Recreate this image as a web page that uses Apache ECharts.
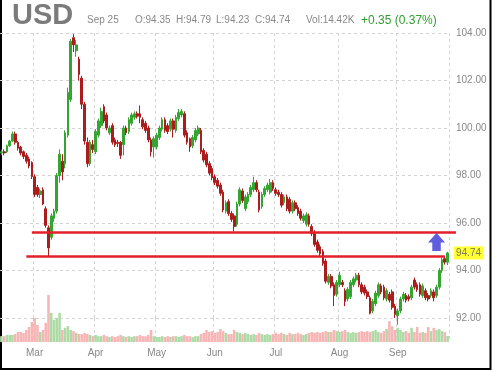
<!DOCTYPE html>
<html><head><meta charset="utf-8">
<script src="https://cdn.jsdelivr.net/npm/echarts@6/dist/echarts.min.js"></script>
<style>html,body{margin:0;padding:0;background:#fff}#c{width:492px;height:371px}</style>
</head><body><div id="c"></div>
<script>
// ---- data ----
const opens = [
98.95,99.0,99.0,99.25,99.45,99.75,99.4,99.2,99.0,98.85,
98.7,98.55,97.95,97.5,97.2,97.4,96.6,95.8,95.4,96.2,
96.5,98.0,98.6,98.5,99.7,101.2,103.8,103.25,102.9,102.1,
101.0,99.4,98.5,99.3,99.0,99.7,100.1,100.9,100.55,99.8,
100.1,99.5,99.4,99.4,99.3,100.0,99.85,100.2,100.45,100.6,
100.6,100.35,100.2,100.0,99.5,99.2,99.2,99.6,99.95,100.35,
100.1,99.95,100.3,99.9,100.4,100.55,100.6,99.8,99.55,99.25,
99.5,99.75,99.9,99.05,98.9,98.5,98.3,97.95,97.8,97.6,
97.3,96.5,96.9,96.4,96.3,95.95,96.8,97.35,96.6,96.9,
97.2,97.4,97.7,97.3,96.7,97.2,97.4,97.3,97.7,97.4,
97.3,97.2,96.85,97.1,97.0,96.5,96.85,96.65,96.5,96.1,
95.95,96.3,95.85,95.6,95.2,95.0,94.8,94.4,93.5,93.75,
93.4,93.0,93.4,93.5,93.15,92.8,92.9,93.4,93.6,93.8,
93.4,93.3,93.1,92.85,92.3,92.6,92.95,93.35,93.3,92.8,
93.0,93.1,92.5,92.1,92.3,92.8,92.95,92.9,92.85,93.6,
93.4,93.4,92.95,93.15,92.95,92.95,93.1,92.95,93.3,94.0,94.5,94.35];
const closes = [
99.0,98.95,99.25,99.45,99.75,99.4,99.15,98.95,98.8,98.6,
98.4,97.95,97.2,97.2,97.35,96.8,95.9,94.95,96.3,96.5,
98.0,98.9,98.15,99.8,101.5,103.65,103.5,103.5,102.25,101.0,
99.45,98.5,99.4,99.1,99.85,100.3,100.7,100.3,100.0,100.0,
99.4,99.3,99.35,98.85,100.0,99.8,100.35,100.55,100.6,100.5,
100.45,100.05,99.9,99.5,99.0,99.55,99.7,100.0,100.35,99.9,
99.85,100.3,99.95,100.45,100.65,100.7,99.7,99.4,99.2,99.6,
99.9,100.0,99.0,98.65,98.45,98.1,97.9,97.7,97.55,97.25,
96.55,96.85,96.4,96.15,95.85,96.8,97.4,96.95,97.1,97.2,
97.5,97.7,97.4,96.55,97.2,97.45,97.6,97.7,97.45,97.25,
97.2,96.75,97.1,96.6,96.5,96.85,96.6,96.4,96.2,96.3,
96.35,95.95,95.55,95.1,94.85,94.7,94.3,93.55,93.75,93.35,
92.95,93.5,93.8,93.4,92.7,93.2,93.5,93.65,93.8,93.4,
93.1,93.05,92.9,92.2,92.7,93.05,93.4,93.1,92.85,93.15,
92.75,92.45,92.15,92.3,92.8,93.0,92.75,92.8,93.3,93.3,
93.2,93.0,93.35,92.85,92.8,93.15,92.85,93.3,94.0,94.45,94.35,94.74];
const highs = [
99.1,99.1,99.3,99.5,99.85,99.85,99.45,99.25,99.05,98.95,
98.8,98.6,98.05,97.6,97.45,97.5,96.7,95.9,96.4,96.6,
98.1,99.1,98.9,99.9,101.7,103.75,103.95,103.7,103.0,102.2,
101.1,99.6,99.5,99.5,99.95,100.4,100.85,101.0,100.65,100.1,
100.2,99.6,99.5,99.45,100.1,100.1,100.45,100.65,100.7,100.7,
100.95,100.45,100.3,100.1,99.6,99.65,99.8,100.1,100.45,100.45,
100.2,100.4,100.4,100.55,100.8,100.8,100.7,99.9,99.6,99.7,
100.0,100.1,100.0,99.15,99.0,98.6,98.4,98.05,97.9,97.7,
97.4,96.95,97.0,96.5,96.4,96.9,97.5,97.45,97.2,97.3,
97.6,97.95,97.8,97.4,97.3,97.55,97.7,97.85,97.8,97.5,
97.4,97.3,97.2,97.2,97.1,96.95,96.95,96.75,96.6,96.4,
96.45,96.4,95.95,95.7,95.3,95.1,94.9,94.5,93.85,93.85,
93.5,93.6,93.95,93.6,93.25,93.3,93.6,93.75,93.9,93.9,
93.5,93.4,93.2,92.95,92.8,93.15,93.5,93.45,93.4,93.25,
93.1,93.2,92.6,92.4,92.9,93.1,93.05,93.0,93.4,93.7,
93.5,93.5,93.45,93.25,93.05,93.25,93.2,93.4,94.1,94.55,94.6,94.79];
const lows = [
98.85,98.85,98.95,99.2,99.4,99.3,99.05,98.85,98.7,98.5,
98.3,97.85,97.1,97.1,97.05,96.75,95.8,94.6,95.3,96.05,
96.4,97.7,97.8,98.3,99.6,101.1,103.2,103.0,102.0,100.8,
99.3,98.35,98.4,98.95,98.9,99.6,100.0,100.2,99.9,99.7,
99.3,99.2,99.2,98.7,98.85,99.7,99.75,100.1,100.35,100.4,
100.2,99.95,99.8,99.4,98.8,98.75,99.1,99.5,99.85,99.8,
99.75,99.85,99.6,99.8,100.3,100.45,99.6,99.3,99.0,99.15,
99.4,99.65,98.9,98.55,98.35,98.0,97.8,97.6,97.45,97.15,
96.45,96.4,96.3,96.05,95.65,95.85,96.7,96.85,96.5,96.8,
97.1,97.3,97.3,96.45,96.6,97.1,97.3,97.2,97.35,97.15,
97.1,96.65,96.75,96.5,96.4,96.4,96.5,96.3,96.1,96.0,
95.85,95.85,95.45,95.0,94.75,94.6,94.2,93.45,93.4,93.25,
92.5,92.9,93.3,93.3,92.5,92.7,92.8,93.3,93.5,93.3,
93.0,92.95,92.8,92.15,92.2,92.5,92.85,93.0,92.75,92.7,
92.65,92.35,92.0,91.72,92.2,92.7,92.65,92.7,92.75,93.2,
93.1,92.9,92.85,92.75,92.7,92.85,92.7,92.85,93.2,93.9,94.25,94.23];
const volumes = [
14,14,17,17,17,19,24,24,22,29,
36,48,58,41,24,29,46,113,70,53,
58,70,29,34,38,29,26,22,19,19,
22,19,17,14,17,14,14,17,14,12,
14,12,14,17,14,12,14,12,14,14,
17,14,14,17,29,14,12,12,14,12,
14,12,14,14,12,14,17,14,14,12,
14,14,19,22,29,24,26,22,24,31,
26,22,19,19,29,24,22,19,22,19,
17,19,17,22,19,17,19,17,19,22,
19,22,19,17,22,19,19,22,19,17,
19,22,24,22,24,22,24,26,24,24,
29,26,24,26,29,24,22,24,22,24,
26,24,26,24,26,29,24,22,26,31,
50,38,29,34,29,24,26,22,34,24,
36,22,24,22,36,26,34,29,31,26,24,14.42];
const priceTicks = [92, 94, 96, 98, 100, 102, 104];
const monthNames = ['Jan','Feb','Mar','Apr','May','Jun','Jul','Aug','Sep','Oct','Nov','Dec'];
const supportLevels = [95.62, 94.60];
const header = ['Sep 25','O:94.35','H:94.79','L:94.23','C:94.74','Vol:14.42K'];
const changeText = '+0.35 (0.37%)';

// trading-day categories (weekdays 2020-02-13 .. 2020-09-25)
const categories = [];
for (let d = new Date(Date.UTC(2020,1,13)); d <= new Date(Date.UTC(2020,8,25)); d.setUTCDate(d.getUTCDate()+1)) {
  const wd = d.getUTCDay();
  if (wd !== 0 && wd !== 6) categories.push(d.toISOString().slice(0,10));
}
const isMonthStart = (i) => i > 0 && categories[i].slice(5,7) !== categories[i-1].slice(5,7);
const monthOf = (s) => monthNames[parseInt(s.slice(5,7),10)-1];

const UP = '#35a531', DOWN = '#ad1c1c';
const candleData = opens.map((o,i) => [o, closes[i], lows[i], highs[i]]);
const volData = volumes.map((v,i) => ({value: v, itemStyle: {color: closes[i] >= opens[i] ? '#addba5' : '#f7b5b5'}}));
const last = categories.length - 1;

const FONT = '"Liberation Sans", Arial, sans-serif';
const chart = echarts.init(document.getElementById('c'), null, {renderer: 'canvas'});
const hx = [87, 135, 176, 216, 255, 306];
const graphics = header.map((t,k) => ({type:'text', left: hx[k], top: 15, style:{text:t, font:'10px '+FONT, fill:'#888'}}));
graphics.push({type:'text', left: 12, top: 1.5, style:{text:'USD', font:'bold 29px '+FONT, fill:'#7b7b7b'}});
graphics.push({type:'text', left: 361, top: 14.5, style:{text:changeText, font:'12px '+FONT, fill:'#2f9e2f'}});
graphics.push({type:'rect', shape:{x:1, y:-3, width:489.5, height:372}, style:{fill:'none', stroke:'#000', lineWidth:2}, silent:true});

chart.setOption({
  animation: false,
  backgroundColor: '#fff',
  graphic: graphics,
  grid: [
    {left: 0, width: 449, top: 33, height: 285},
    {left: 0, width: 449, top: 318, height: 24}
  ],
  xAxis: [
    {type:'category', gridIndex:0, data: categories, boundaryGap: true,
     axisLine:{show:false}, axisTick:{show:false}, axisLabel:{show:false},
     splitLine:{show:true, interval:(i)=>isMonthStart(i), lineStyle:{color:'#d2d2d2', type:[3,3], width:1}}},
    {type:'category', gridIndex:1, data: categories, boundaryGap: true,
     axisLine:{show:false}, axisTick:{show:false},
     axisLabel:{interval:(i)=>isMonthStart(i), formatter:(v)=>monthOf(v), color:'#888', fontSize:10, fontFamily:FONT, margin:6},
     splitLine:{show:true, interval:(i)=>isMonthStart(i), lineStyle:{color:'#d2d2d2', type:[3,3], width:1}}}
  ],
  yAxis: [
    {type:'value', gridIndex:0, position:'right', min: priceTicks[0], max: priceTicks[priceTicks.length-1], interval: priceTicks[1]-priceTicks[0],
     axisLine:{show:false}, axisTick:{show:false},
     axisLabel:{formatter:(v)=>v.toFixed(2), color:'#888', fontSize:10, fontFamily:FONT, margin:7},
     splitLine:{show:true, lineStyle:{color:'#d2d2d2', type:[3,3], width:1}}},
    {type:'value', gridIndex:1, min:0, max:57.6, show:false, splitLine:{show:false}}
  ],
  series: [
    {type:'bar', xAxisIndex:1, yAxisIndex:1, data: volData, barWidth:'92%', clip:false, z:1, silent:true},
    {type:'candlestick', xAxisIndex:0, yAxisIndex:0, data: candleData, barWidth: 2.2, clip:false, z:3,
     itemStyle:{color:UP, color0:DOWN, borderColor:UP, borderColor0:DOWN, borderWidth:1}},
    {type:'line', xAxisIndex:0, yAxisIndex:0, data: [], silent:true, z:6,
     markLine:{symbol:'none', silent:true, animation:false,
       data:[{yAxis: closes[last]}],
       lineStyle:{color:'rgba(0,0,0,0)', width:0},
       label:{show:true, position:'end', formatter: closes[last].toFixed(2), backgroundColor:'#ffff33', color:'#7a7a55', fontSize:10, fontFamily:FONT, padding:[2,2,1,2], distance:5}}},
    {type:'lines', coordinateSystem:'cartesian2d', xAxisIndex:0, yAxisIndex:0, clip:false, z:4, silent:true,
     lineStyle:{color:'#e3202a', width:2.5, opacity:1},
     data:[{coords:[[11, supportLevels[0]], [164, supportLevels[0]]]}, {coords:[[9, supportLevels[1]], [160, supportLevels[1]]]}]},
    {type:'scatter', xAxisIndex:0, yAxisIndex:0, z:5, silent:true, clip:false,
     symbol:'path://M8,0 L16,9 L12,9 L12,17 L4,17 L4,9 L0,9 Z', symbolSize:[17,18],
     itemStyle:{color:'#3636d6'}, data:[[157, 95.2]]}
  ]
});
</script></body></html>
